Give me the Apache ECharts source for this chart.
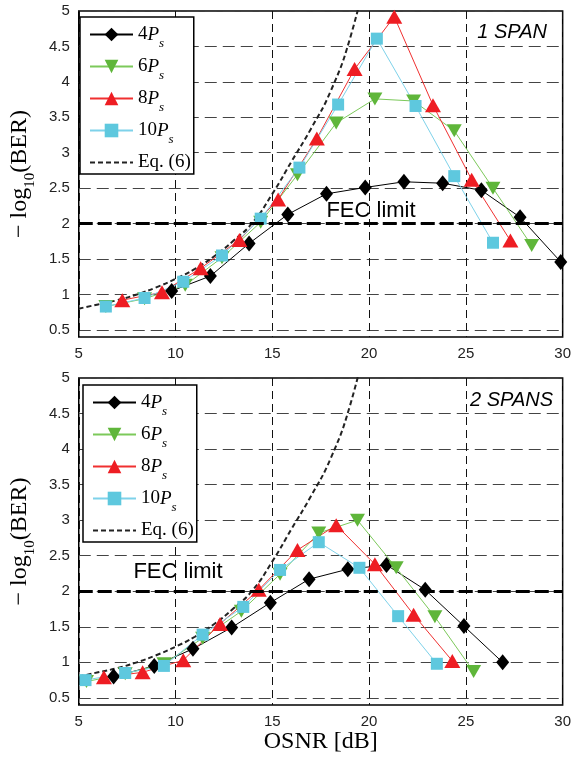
<!DOCTYPE html>
<html>
<head>
<meta charset="utf-8">
<script src="https://cdn.jsdelivr.net/npm/echarts@6/dist/echarts.min.js"></script>
<style>
  html, body { margin: 0; padding: 0; background: #fff; }
  #chart { width: 574px; height: 760px; }
</style>
</head>
<body>
<div id="chart"></div>
<script>
const xTicks = [5, 10, 15, 20, 25, 30];
const yTicks = [0.5, 1, 1.5, 2, 2.5, 3, 3.5, 4, 4.5, 5];
const fecLimit = 2;

// 1 span
const osnr4One = [9.8, 11.8, 13.8, 15.8, 17.8, 19.8, 21.8, 23.8, 25.8, 27.8, 29.9];
const ber4One = [1.05, 1.26, 1.72, 2.13, 2.42, 2.51, 2.59, 2.57, 2.47, 2.09, 1.46];
const osnr6One = [6.4, 8.4, 10.5, 12.4, 14.4, 16.3, 18.3, 20.3, 22.3, 24.4, 26.4, 28.4];
const ber6One = [0.83, 0.94, 1.13, 1.52, 2.02, 2.69, 3.42, 3.76, 3.73, 3.31, 2.5, 1.69];
const osnr8One = [7.25, 9.3, 11.3, 13.3, 15.3, 17.3, 19.25, 21.3, 23.3, 25.3, 27.3];
const ber8One = [0.92, 1.03, 1.37, 1.77, 2.34, 3.2, 4.18, 4.92, 3.67, 2.62, 1.76];
const osnr10One = [6.4, 8.4, 10.4, 12.4, 14.4, 16.4, 18.4, 20.4, 22.4, 24.4, 26.4];
const ber10One = [0.83, 0.95, 1.18, 1.55, 2.07, 2.79, 3.68, 4.61, 3.66, 2.67, 1.73];

// 2 spans
const osnr4Two = [6.8, 8.9, 10.9, 12.9, 14.9, 16.9, 18.9, 20.9, 22.9, 24.9, 26.9];
const ber4Two = [0.8, 0.95, 1.19, 1.49, 1.84, 2.17, 2.31, 2.37, 2.02, 1.51, 1.0];
const osnr6Two = [5.4, 7.4, 9.4, 11.4, 13.4, 15.4, 17.4, 19.4, 21.4, 23.4, 25.4];
const ber6Two = [0.73, 0.84, 0.98, 1.34, 1.72, 2.24, 2.82, 3.0, 2.33, 1.64, 0.87];
const osnr8Two = [6.3, 8.3, 10.4, 12.3, 14.3, 16.3, 18.3, 20.3, 22.3, 24.3];
const ber8Two = [0.79, 0.86, 1.03, 1.54, 2.02, 2.58, 2.93, 2.38, 1.67, 1.02];
const osnr10Two = [5.35, 7.4, 9.4, 11.4, 13.5, 15.4, 17.4, 19.5, 21.5, 23.5];
const ber10Two = [0.75, 0.85, 0.95, 1.39, 1.78, 2.3, 2.69, 2.33, 1.65, 0.98];

// Eq. (6), same curve in both panels
const osnrEq = [5, 6, 7, 8, 9, 10, 11, 12, 13, 14, 15, 16, 17, 18, 19, 20];
const berEq = [0.8, 0.86, 0.92, 1.0, 1.1, 1.22, 1.36, 1.54, 1.76, 2.02, 2.42, 2.88, 3.34, 3.86, 4.6, 5.7];

const names = ["4Ps", "6Ps", "8Ps", "10Ps", "Eq. (6)"];

const styles = {
  "4Ps": { symbol: "diamond", size: [13, 16], rotate: 0, line: "#000", marker: "#000" },
  "6Ps": { symbol: "triangle", size: [15, 13], rotate: 180, line: "#7cc95a", marker: "#5fb63a" },
  "8Ps": { symbol: "triangle", size: [16, 14], rotate: 0, line: "#f03030", marker: "#ee1d23" },
  "10Ps": { symbol: "rect", size: 12, rotate: 0, line: "#7ed2ea", marker: "#5ec8de" },
};

function pairs(xs, ys) {
  return xs.map((x, i) => [x, ys[i]]);
}

function markerSeries(name, idx, xs, ys) {
  const s = styles[name];
  return {
    name: name,
    type: "line",
    xAxisIndex: idx,
    yAxisIndex: idx,
    data: pairs(xs, ys),
    symbol: s.symbol,
    symbolSize: s.size,
    symbolRotate: s.rotate,
    showAllSymbol: true,
    itemStyle: { color: s.marker },
    lineStyle: { color: s.line, width: 1 },
    emphasis: { disabled: true },
    animation: false,
  };
}

function eqSeries(idx) {
  return {
    name: "Eq. (6)",
    type: "line",
    xAxisIndex: idx,
    yAxisIndex: idx,
    data: pairs(osnrEq, berEq),
    smooth: 0.5,
    symbol: "none",
    itemStyle: { color: "#222" },
    lineStyle: { color: "#222", width: 2, type: [5, 3] },
    markLine: {
      silent: true,
      symbol: "none",
      label: { show: false },
      lineStyle: { color: "#000", width: 3, type: [14, 5] },
      data: [{ yAxis: fecLimit }],
    },
    animation: false,
  };
}

const serifFont = "'Liberation Serif', 'DejaVu Serif', serif";
const sansFont = "'Liberation Sans', Arial, sans-serif";

const legendRich = {
  n: { fontFamily: serifFont, fontSize: 19, color: "#000", lineHeight: 21 },
  p: { fontFamily: serifFont, fontSize: 19, fontStyle: "italic", color: "#000", lineHeight: 21 },
  s: { fontFamily: serifFont, fontSize: 13, fontStyle: "italic", color: "#000", lineHeight: 21, verticalAlign: "bottom", padding: [0, 0, -5, 0] },
};

function legendLabel(name) {
  if (name === "Eq. (6)") return "{n|Eq. (6)}";
  return "{n|" + name.replace("Ps", "") + "}{p|P}{s|s}";
}

function makeLegend(left, top) {
  return {
    orient: "vertical",
    left: left,
    top: top,
    data: names.map(n => n === "Eq. (6)" ? { name: n, itemStyle: { color: "rgba(0,0,0,0)", borderWidth: 0 } } : n),
    backgroundColor: "#fff",
    borderColor: "#000",
    borderWidth: 1.5,
    padding: [8, 3, 2, 9],
    itemWidth: 43,
    itemHeight: 17,
    itemGap: 7,
    selectedMode: false,
    formatter: legendLabel,
    textStyle: { rich: legendRich },
  };
}

function makeXAxis(idx, withName) {
  return {
    gridIndex: idx,
    type: "value",
    min: 5,
    max: 30,
    interval: 5,
    name: withName ? "OSNR [dB]" : "",
    nameLocation: "middle",
    nameGap: 23,
    nameTextStyle: { fontFamily: serifFont, fontSize: 24, color: "#000" },
    axisLine: { show: false },
    axisTick: { show: false },
    axisLabel: { fontFamily: sansFont, fontSize: 15, color: "#222", margin: 9 },
    splitLine: { show: true, lineStyle: { color: "#111", width: 1, type: [8, 5] } },
  };
}

function makeYAxis(idx) {
  return {
    gridIndex: idx,
    type: "value",
    min: 0.4,
    max: 5,
    name: "{m|− log}{s|10}{m|(BER)}",
    nameLocation: "middle",
    nameGap: 36,
    nameTextStyle: {
      rich: {
        m: { fontFamily: serifFont, fontSize: 24, color: "#000", lineHeight: 30 },
        s: { fontFamily: serifFont, fontSize: 15, color: "#000", lineHeight: 30, verticalAlign: "bottom", padding: [0, 0, -3, 0] },
      },
    },
    axisLine: { show: false },
    axisTick: { show: false, customValues: yTicks },
    axisLabel: { fontFamily: sansFont, fontSize: 15, color: "#222", margin: 9, customValues: yTicks },
    splitLine: { show: true, lineStyle: { color: "#444", width: 1, type: [12, 6] } },
  };
}

const chart = echarts.init(document.getElementById("chart"), null, { renderer: "canvas" });

const option = {
  backgroundColor: "#fff",
  animation: false,
  grid: [
    { left: 75, right: 10.5, top: 11, height: 326, show: true, borderColor: "#000", borderWidth: 1.5, backgroundColor: "#fff" },
    { left: 75, right: 10.5, top: 378, height: 327, show: true, borderColor: "#000", borderWidth: 1.5, backgroundColor: "#fff" },
  ],
  xAxis: [makeXAxis(0, false), makeXAxis(1, true)],
  yAxis: [makeYAxis(0), makeYAxis(1)],
  legend: [makeLegend(80, 17), makeLegend(83, 385)],
  series: [
    markerSeries("4Ps", 0, osnr4One, ber4One),
    markerSeries("6Ps", 0, osnr6One, ber6One),
    markerSeries("8Ps", 0, osnr8One, ber8One),
    markerSeries("10Ps", 0, osnr10One, ber10One),
    eqSeries(0),
    markerSeries("4Ps", 1, osnr4Two, ber4Two),
    markerSeries("6Ps", 1, osnr6Two, ber6Two),
    markerSeries("8Ps", 1, osnr8Two, ber8Two),
    markerSeries("10Ps", 1, osnr10Two, ber10Two),
    eqSeries(1),
  ],
  graphic: [
    { type: "text", x: 547, y: 32, style: { text: "1 SPAN", align: "right", verticalAlign: "middle", fontFamily: sansFont, fontSize: 20, fontStyle: "italic", fill: "#000" } },
    { type: "text", x: 553, y: 400, style: { text: "2 SPANS", align: "right", verticalAlign: "middle", fontFamily: sansFont, fontSize: 20, fontStyle: "italic", fill: "#000" } },
    { type: "text", x: 371, y: 211, style: { text: "FEC limit", align: "center", verticalAlign: "middle", fontFamily: sansFont, fontSize: 22, fill: "#000" } },
    { type: "text", x: 178, y: 572, style: { text: "FEC limit", align: "center", verticalAlign: "middle", fontFamily: sansFont, fontSize: 22, fill: "#000" } },
  ],
};

chart.setOption(option);
</script>
</body>
</html>
